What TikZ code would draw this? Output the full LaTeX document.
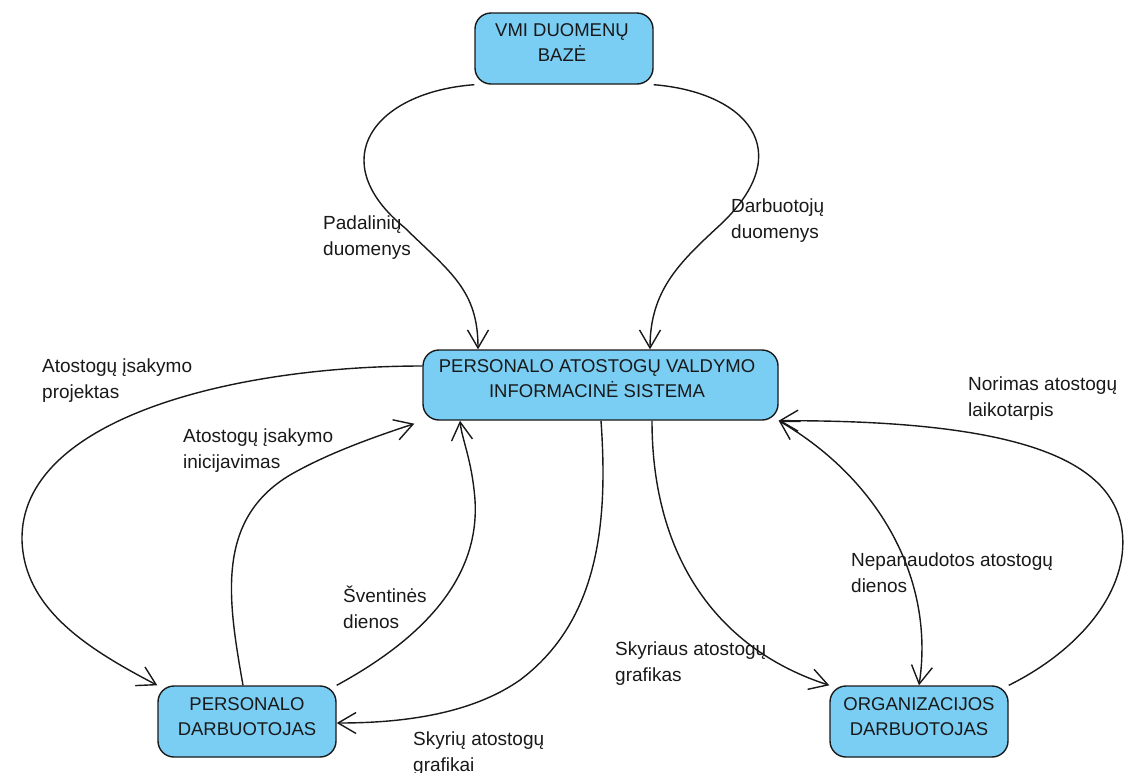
\documentclass[tikz,border=0pt]{standalone}
\usepackage{fontspec}
\setmainfont{Liberation Sans}
\usetikzlibrary{arrows.meta,backgrounds}
\definecolor{boxblue}{RGB}{122,206,244}
\definecolor{ink}{RGB}{25,25,25}
\begin{document}
\begin{tikzpicture}[x=1pt,y=-1pt,
  box/.style={draw=ink, line width=1.4pt, fill=boxblue, rounded corners=16pt, inner sep=0pt},
  boxtext/.style={align=center, anchor=base, inner sep=0pt, font=\fontsize{18.5}{25}\selectfont, text=ink},
  lbl/.style={align=left, anchor=base west, inner sep=0pt, font=\fontsize{19}{26}\selectfont, text=ink},
  flow/.style={draw=ink, line width=1.4pt, -{Straight Barb[length=18pt,width=21pt,line width=1.4pt]}},
  bothflow/.style={draw=ink, line width=1.4pt, {Straight Barb[length=18pt,width=21pt,line width=1.4pt]}-{Straight Barb[length=18pt,width=21pt,line width=1.4pt]}},
]
\useasboundingbox (0,0) rectangle (1126,772);

% boxes
\node[box, minimum width=178pt, minimum height=71pt] (vmi) at (564,48.5) {};
\node[box, minimum width=355pt, minimum height=70pt] (pais) at (600.5,385) {};
\node[box, minimum width=178pt, minimum height=71pt] (pers) at (247,721.5) {};
\node[box, minimum width=178pt, minimum height=71pt] (org) at (919,721.5) {};

\node[boxtext] (vmi-t) at (562,61) {VMI DUOMENŲ\\BAZĖ};
\node[boxtext] (pais-t) at (597,397) {PERSONALO ATOSTOGŲ VALDYMO\\INFORMACINĖ SISTEMA};
\node[boxtext] (pers-t) at (247,735) {PERSONALO\\DARBUOTOJAS};
\node[boxtext] (org-t) at (919,735) {ORGANIZACIJOS\\DARBUOTOJAS};

% connectors
\begin{pgfonlayer}{background}
\fill[white] (0,0) rectangle (1126,772);
\draw[flow] (vmi.south west) .. controls (375,92) and (322,160) .. (405,228)
  .. controls (450,272) and (478,290) .. ([xshift=-122.5pt]pais.north);
\draw[flow] (vmi.south east) .. controls (745,92) and (800,150) .. (720,225)
  .. controls (680,262) and (650,290) .. ([xshift=49.5pt]pais.north);
\draw[flow] ([yshift=19pt]pais.west) .. controls (230,366) and (20,420) .. (22,540)
  .. controls (24,610) and (90,650) .. (pers.north west);
\draw[flow] ([xshift=-4pt]pers.north) .. controls (228,600) and (215,520) .. (290,475)
  .. controls (330,452) and (380,435) .. ([shift={(-8pt,-3pt)}]pais.south west);
\draw[flow] (pers.north east) .. controls (420,640) and (480,580) .. (475,500)
  .. controls (472,460) and (462,440) .. ([xshift=-140.5pt]pais.south);
\draw[flow] ([xshift=0.5pt]pais.south) .. controls (608,520) and (600,620) .. (520,680)
  .. controls (470,715) and (400,723) .. ([yshift=-1.5pt]pers.east);
\draw[flow] ([xshift=51.5pt]pais.south) .. controls (652,560) and (720,650) .. (org.north west);
\draw[bothflow] (pais.south east) .. controls (880,480) and (935,580) .. (org.north);
\draw[flow] (org.north east) .. controls (1080,650) and (1130,590) .. (1122,530)
  .. controls (1112,460) and (1020,420) .. (pais.south east);
\end{pgfonlayer}

% labels
\node[lbl] (l1) at (323,255) {Padalinių\\duomenys};
\node[lbl] (l2) at (731,238) {Darbuotojų\\duomenys};
\node[lbl] (l3) at (42,398) {Atostogų įsakymo\\projektas};
\node[lbl] (l4) at (183,468) {Atostogų įsakymo\\inicijavimas};
\node[lbl] (l5) at (343,628) {Šventinės\\dienos};
\node[lbl] (l6) at (413,771) {Skyrių atostogų\\grafikai};
\node[lbl] (l7) at (615,681) {Skyriaus atostogų\\grafikas};
\node[lbl] (l8) at (851,592) {Nepanaudotos atostogų\\dienos};
\node[lbl] (l9) at (968,416) {Norimas atostogų\\laikotarpis};
\end{tikzpicture}
\end{document}
